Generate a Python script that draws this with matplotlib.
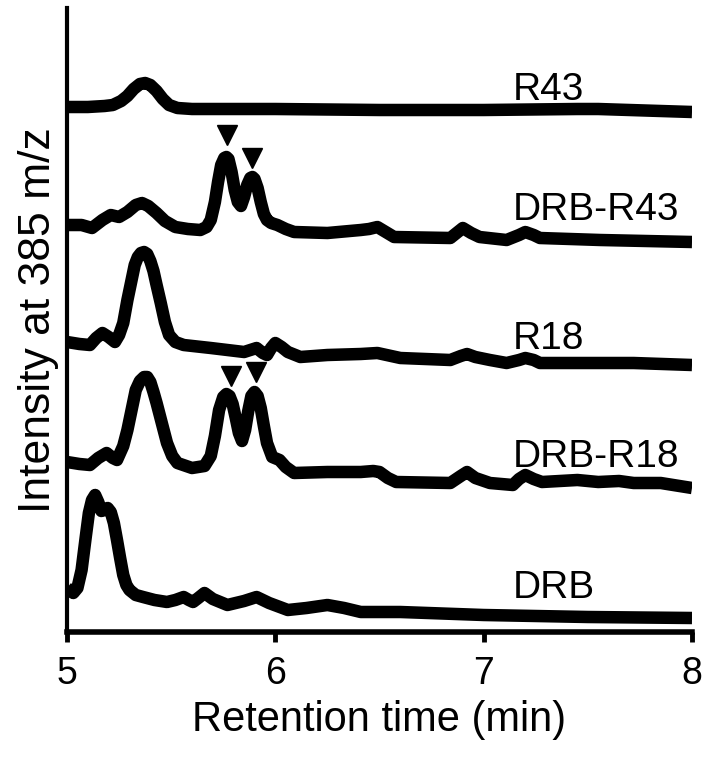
import matplotlib
matplotlib.use("Agg")
import matplotlib.pyplot as plt

plt.rcParams['font.family'] = ['Liberation Sans', 'DejaVu Sans']

# retention time (min) and intensity (a.u., above each trace's own baseline)
r43_t = [5.00, 5.10, 5.18, 5.22, 5.26, 5.29, 5.32, 5.35, 5.375, 5.40, 5.43, 5.46,
         5.49, 5.53, 5.60, 6.00, 6.50, 7.00, 7.45, 7.55, 8.00]
r43_y = [5, 5, 6, 7, 11, 16, 23, 28, 29, 27, 21, 13, 7, 4, 3, 3, 2, 2, 3, 3, 0]

drb_r43_t = [5.00, 5.07, 5.12, 5.17, 5.21, 5.25, 5.29, 5.33, 5.36, 5.39, 5.43, 5.47,
             5.52, 5.58, 5.64, 5.67, 5.69, 5.71, 5.725, 5.74, 5.755, 5.765, 5.775,
             5.79, 5.805, 5.82, 5.835, 5.85, 5.865, 5.88, 5.89, 5.90, 5.915, 5.93,
             5.945, 5.96, 5.98, 6.01, 6.05, 6.09, 6.25, 6.41, 6.45, 6.49, 6.53, 6.57,
             6.84, 6.87, 6.90, 6.94, 6.98, 7.11, 7.17, 7.20, 7.24, 7.27, 7.56, 8.00]
drb_r43_y = [17, 17, 14, 22, 27, 25, 30, 37, 39, 36, 29, 21, 15, 13, 12, 15, 22, 40,
             60, 77, 84, 85, 83, 70, 52, 40, 36, 45, 57, 64, 65, 63, 54, 40, 28, 22,
             19, 17, 13, 10, 9, 12, 13, 15, 10, 5, 4, 9, 14, 9, 5, 2, 7, 10, 7, 4, 2,
             0]

r18_t = [5.00, 5.06, 5.11, 5.14, 5.17, 5.20, 5.23, 5.25, 5.27, 5.29, 5.31, 5.325,
         5.34, 5.355, 5.37, 5.385, 5.40, 5.415, 5.43, 5.45, 5.47, 5.49, 5.52, 5.56,
         5.69, 5.85, 5.88, 5.91, 5.94, 5.96, 5.98, 6.00, 6.03, 6.06, 6.12, 6.25,
         6.41, 6.49, 6.60, 6.84, 6.89, 6.92, 6.96, 7.03, 7.11, 7.17, 7.20, 7.24,
         7.27, 7.72, 8.00]
r18_y = [23, 21, 20, 27, 32, 28, 23, 30, 42, 65, 85, 100, 108, 112, 113, 111, 104,
         94, 80, 62, 43, 30, 23, 20, 17, 13, 15, 17, 12, 10, 17, 22, 18, 13, 8, 10,
         11, 12, 7, 5, 9, 11, 8, 5, 2, 5, 7, 5, 2, 2, 0]

drb_r18_t = [5.00, 5.06, 5.11, 5.15, 5.19, 5.22, 5.24, 5.27, 5.29, 5.31, 5.33, 5.35,
             5.37, 5.385, 5.40, 5.415, 5.43, 5.455, 5.48, 5.505, 5.53, 5.60, 5.66,
             5.69, 5.71, 5.73, 5.75, 5.765, 5.78, 5.795, 5.81, 5.825, 5.84, 5.855,
             5.87, 5.885, 5.90, 5.915, 5.93, 5.945, 5.96, 5.985, 6.02, 6.05, 6.09,
             6.25, 6.41, 6.47, 6.50, 6.54, 6.58, 6.84, 6.89, 6.92, 6.96, 7.03, 7.14,
             7.17, 7.20, 7.24, 7.28, 7.45, 7.55, 7.65, 7.72, 7.85, 8.00]
drb_r18_y = [26, 24, 23, 30, 35, 30, 28, 42, 58, 78, 98, 107, 111, 111, 106, 96, 85,
             65, 45, 32, 25, 20, 22, 32, 52, 78, 91, 94, 92, 84, 70, 55, 47, 58, 77,
             92, 96, 92, 80, 62, 45, 31, 28, 21, 15, 16, 16, 17, 16, 10, 6, 5, 12, 16,
             10, 5, 3, 9, 13, 9, 6, 8, 6, 7, 5, 5, 0]

drb_t = [5.00, 5.03, 5.05, 5.07, 5.09, 5.105, 5.12, 5.135, 5.15, 5.165, 5.18, 5.195,
         5.21, 5.225, 5.24, 5.255, 5.27, 5.285, 5.30, 5.33, 5.365, 5.42, 5.48, 5.52,
         5.56, 5.585, 5.605, 5.63, 5.66, 5.70, 5.77, 5.85, 5.91, 5.97, 6.06, 6.15,
         6.25, 6.33, 6.41, 6.60, 7.00, 7.50, 8.00]
drb_y = [30, 25, 30, 48, 81, 105, 118, 123, 116, 107, 108, 110, 106, 95, 78, 60, 43,
         33, 28, 23, 21, 18, 16, 18, 21, 18, 16, 20, 25, 19, 13, 17, 21, 15, 8, 10,
         13, 10, 6, 6, 3, 1, 0]

names = ['R43', 'DRB-R43', 'R18', 'DRB-R18', 'DRB']
times = [r43_t, drb_r43_t, r18_t, drb_r18_t, drb_t]
signals = [r43_y, drb_r43_y, r18_y, drb_r18_y, drb_y]
offsets = [520, 390, 267, 144, 14]
label_y = [542, 422, 293, 175, 44]

# arrowheads marking the new peaks
arrow_t = [5.768, 5.888, 5.785, 5.907]
arrow_y = [497, 474.5, 256, 260]

fig = plt.figure(figsize=(7.10, 7.61), dpi=100)
ax = fig.add_axes([67 / 710, 129 / 761, 625 / 710, 624 / 761])

for t, s, off, name, ly in zip(times, signals, offsets, names, label_y):
    ax.plot(t, [v + off for v in s], color='black', lw=9,
            solid_capstyle='butt', solid_joinstyle='round')
    ax.text(7.141, ly, name, fontsize=28, ha='left', va='center')

ax.plot(arrow_t, arrow_y, linestyle='none', marker='v', markersize=15,
        color='black')

ax.set_xlim(5, 8)
ax.set_ylim(0, 624)
ax.set_xticks([5, 6, 7, 8])
ax.set_yticks([])
ax.spines['top'].set_visible(False)
ax.spines['right'].set_visible(False)
ax.spines['left'].set_linewidth(3)
ax.spines['bottom'].set_linewidth(4)
ax.tick_params(axis='x', direction='out', length=7, width=3.5, pad=10,
               labelsize=27)
ax.set_xlabel('Retention time (min)', fontsize=30, labelpad=6)
ax.set_ylabel('Intensity at 385 m/z', fontsize=32, labelpad=6)

fig.savefig('out.png', dpi=100)
